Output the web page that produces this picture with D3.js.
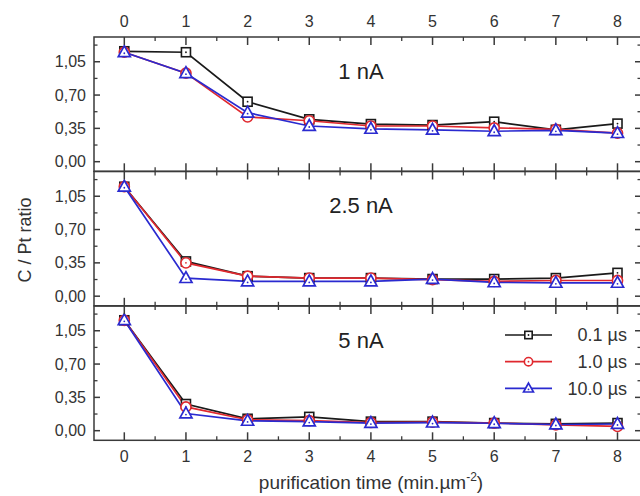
<!DOCTYPE html>
<html>
<head>
<meta charset="utf-8">
<script src="https://cdn.jsdelivr.net/npm/d3@7"></script>
<style>
  html, body { margin: 0; padding: 0; background: #fff; }
  svg { display: block; font-family: "Liberation Sans", Arial, sans-serif; }
</style>
</head>
<body>
<svg id="chart" width="640" height="496"></svg>
<script>
// purification time steps (min.µm^-2)
const times = [0, 1, 2, 3, 4, 5, 6, 7, 8];
const xTickValues = [0, 1, 2, 3, 4, 5, 6, 7, 8];
const yTickValues = [0, 0.35, 0.70, 1.05];
const panelLabels = ["1 nA", "2.5 nA", "5 nA"];
const seriesLabels = ["0.1 \u00b5s", "1.0 \u00b5s", "10.0 \u00b5s"];

// C / Pt ratio at 1 nA beam current
const ratio1nA_01us  = [1.16, 1.15, 0.63, 0.445, 0.395, 0.385, 0.42, 0.335, 0.40];
const ratio1nA_10us  = [1.15, 0.93, 0.47, 0.43, 0.375, 0.375, 0.355, 0.34, 0.30];
const ratio1nA_100us = [1.15, 0.93, 0.515, 0.375, 0.345, 0.335, 0.32, 0.33, 0.30];

// C / Pt ratio at 2.5 nA beam current
const ratio25nA_01us  = [1.15, 0.365, 0.21, 0.19, 0.19, 0.18, 0.18, 0.19, 0.245];
const ratio25nA_10us  = [1.15, 0.35, 0.21, 0.19, 0.19, 0.175, 0.155, 0.165, 0.165];
const ratio25nA_100us = [1.15, 0.19, 0.155, 0.155, 0.155, 0.18, 0.145, 0.14, 0.14];

// C / Pt ratio at 5 nA beam current
const ratio5nA_01us  = [1.16, 0.28, 0.125, 0.145, 0.095, 0.095, 0.08, 0.072, 0.08];
const ratio5nA_10us  = [1.16, 0.25, 0.115, 0.105, 0.086, 0.09, 0.08, 0.062, 0.045];
const ratio5nA_100us = [1.16, 0.18, 0.103, 0.096, 0.08, 0.085, 0.078, 0.065, 0.07];

const panelData = [
  [ratio1nA_01us, ratio1nA_10us, ratio1nA_100us],
  [ratio25nA_01us, ratio25nA_10us, ratio25nA_100us],
  [ratio5nA_01us, ratio5nA_10us, ratio5nA_100us]
];

const colors = ["#1a1a1a", "#e0282e", "#2a2ad0"];
const shapes = ["square", "circle", "triangle"];
const axisColor = "#3a3a3a";
const textColor = "#333";

const svg = d3.select("#chart");
const left = 94, right = 641;
const panelTops = [37, 171.5, 306];
const panelH = 134.3;

// x = 0 and x = 8 sit inside the frame with a margin on each side
const x = d3.scaleLinear().domain([0, 8]).range([124.3, 617.5]);

const fmt = v => d3.format(".2f")(v).replace(".", ",");

function drawMarker(g, shape, color, cx, cy, size) {
  if (shape === "square") {
    const s = size * 0.82;
    g.append("rect").attr("x", cx - s / 2).attr("y", cy - s / 2)
      .attr("width", s).attr("height", s)
      .attr("fill", "#fff").attr("stroke", color).attr("stroke-width", 1.6);
  } else if (shape === "circle") {
    g.append("circle").attr("cx", cx).attr("cy", cy).attr("r", size * 0.46)
      .attr("fill", "#fff").attr("stroke", color).attr("stroke-width", 1.6);
  } else {
    const h = size * 0.95, w = size * 1.1;
    g.append("path")
      .attr("d", `M${cx},${cy - h * 0.62}L${cx + w / 2},${cy + h * 0.42}L${cx - w / 2},${cy + h * 0.42}Z`)
      .attr("fill", "#fff").attr("stroke", color).attr("stroke-width", 1.7)
      .attr("stroke-linejoin", "miter");
  }
  g.append("circle").attr("cx", cx).attr("cy", cy + (shape === "triangle" ? 1 : 0)).attr("r", 0.9).attr("fill", color);
}

panelData.forEach((series, p) => {
  const top = panelTops[p], bottom = top + panelH;
  const y = d3.scaleLinear().domain([-0.101, 1.31]).range([bottom, top]);
  const g = svg.append("g");

  // data lines then markers, drawn series by series
  series.forEach((vals, s) => {
    const line = d3.line().x((d, i) => x(times[i])).y(d => y(d));
    g.append("path").datum(vals).attr("d", line)
      .attr("fill", "none").attr("stroke", colors[s]).attr("stroke-width", 1.7);
  });
  series.forEach((vals, s) => {
    vals.forEach((v, i) => drawMarker(g, shapes[s], colors[s], x(times[i]), y(v), 11));
  });

  // frame
  g.append("rect").attr("x", left).attr("y", top).attr("width", right - left).attr("height", panelH)
    .attr("fill", "none").attr("stroke", axisColor).attr("stroke-width", 1.5);

  // inward x ticks on top and bottom edges
  const xMinor = d3.range(0.5, 8, 1);
  [[top, 1], [bottom, -1]].forEach(([yy, dir]) => {
    xTickValues.forEach(t => g.append("line").attr("x1", x(t)).attr("x2", x(t))
      .attr("y1", yy).attr("y2", yy + dir * 8).attr("stroke", axisColor).attr("stroke-width", 1.5));
    xMinor.forEach(t => g.append("line").attr("x1", x(t)).attr("x2", x(t))
      .attr("y1", yy).attr("y2", yy + dir * 4).attr("stroke", axisColor).attr("stroke-width", 1.3));
  });

  // inward y ticks on left and right edges
  const yMinor = [0.175, 0.525, 0.875, 1.225];
  [[left, 1], [right, -1]].forEach(([xx, dir]) => {
    yTickValues.forEach(v => g.append("line").attr("x1", xx).attr("x2", xx + dir * 6)
      .attr("y1", y(v)).attr("y2", y(v)).attr("stroke", axisColor).attr("stroke-width", 1.5));
    yMinor.forEach(v => g.append("line").attr("x1", xx).attr("x2", xx + dir * 3.5)
      .attr("y1", y(v)).attr("y2", y(v)).attr("stroke", axisColor).attr("stroke-width", 1.3));
  });

  // y tick labels
  yTickValues.forEach(v => g.append("text").attr("x", left - 8).attr("y", y(v)).attr("dy", "0.35em")
    .attr("text-anchor", "end").attr("font-size", 16).attr("fill", textColor).text(fmt(v)));

  // beam current label
  g.append("text").attr("x", 361).attr("y", top + 34).attr("dy", "0.35em")
    .attr("text-anchor", "middle").attr("font-size", 22).attr("fill", "#222").text(panelLabels[p]);
});

// x tick labels above the top panel and below the bottom panel
xTickValues.forEach(t => {
  svg.append("text").attr("x", x(t)).attr("y", 21).attr("dy", "0.35em")
    .attr("text-anchor", "middle").attr("font-size", 16).attr("fill", textColor).text(t);
  svg.append("text").attr("x", x(t)).attr("y", 456).attr("dy", "0.35em")
    .attr("text-anchor", "middle").attr("font-size", 16).attr("fill", textColor).text(t);
});

// axis titles
svg.append("text").attr("transform", "translate(31,240) rotate(-90)")
  .attr("text-anchor", "middle").attr("font-size", 18).attr("fill", textColor).text("C / Pt ratio");

const xt = svg.append("text").attr("x", 371).attr("y", 489)
  .attr("text-anchor", "middle").attr("font-size", 19).attr("fill", textColor);
xt.append("tspan").text("purification time (min.\u00b5m");
xt.append("tspan").attr("font-size", 12).attr("dy", -8).text("-2");
xt.append("tspan").attr("dy", 8).text(")");

// legend in the bottom panel
const legend = svg.append("g");
seriesLabels.forEach((lab, s) => {
  const ly = 335 + s * 26.7;
  legend.append("line").attr("x1", 505).attr("x2", 552).attr("y1", ly).attr("y2", ly)
    .attr("stroke", colors[s]).attr("stroke-width", 1.7);
  drawMarker(legend, shapes[s], colors[s], 528.5, ly, 9);
  legend.append("text").attr("x", 627).attr("y", ly).attr("dy", "0.35em")
    .attr("text-anchor", "end").attr("font-size", 18).attr("fill", textColor).text(lab);
});
</script>
</body>
</html>
